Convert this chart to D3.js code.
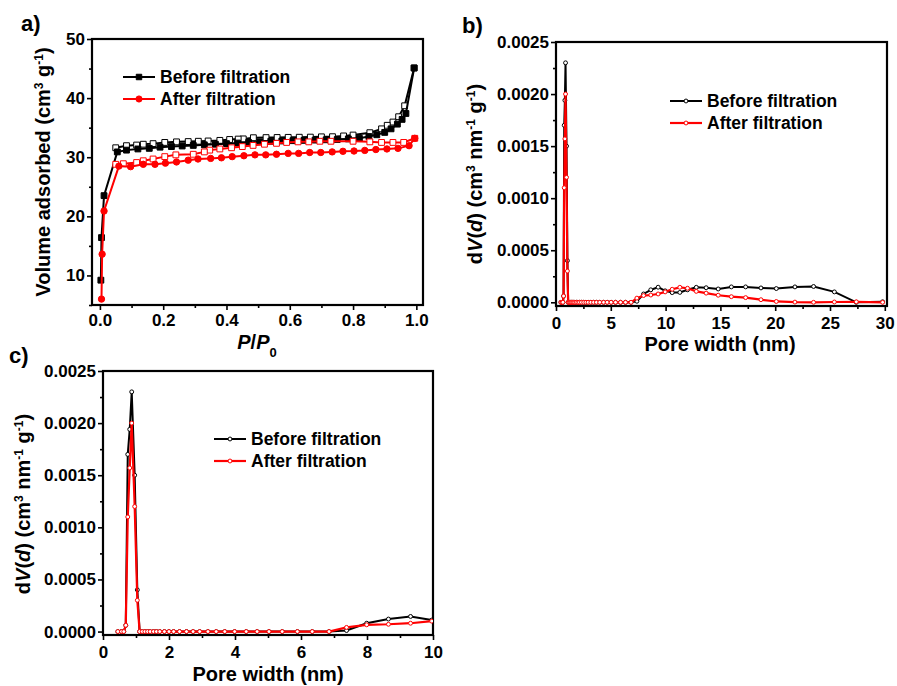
<!DOCTYPE html>
<html>
<head>
<meta charset="utf-8">
<script src="https://cdn.jsdelivr.net/npm/d3@7"></script>
<style>
  body { margin: 0; background: #fff; }
  svg text { font-family: "Liberation Sans", Arial, sans-serif; font-weight: bold; fill: #000; }
</style>
</head>
<body>
<svg id="chart" width="897" height="686"></svg>
<script>
// ---- isotherm data (P/P0, cm3/g) ----
const beforeAds = [[0.003,9.2],[0.005,16.4],[0.013,23.5],[0.055,30.9],[0.084,31.2],[0.12,31.4],[0.156,31.5],[0.19,31.7],[0.226,31.8],[0.26,31.9],[0.295,32.0],[0.33,32.1],[0.365,32.2],[0.40,32.3],[0.435,32.4],[0.47,32.5],[0.505,32.6],[0.54,32.7],[0.575,32.75],[0.61,32.8],[0.645,32.85],[0.68,32.9],[0.715,32.95],[0.75,33.0],[0.785,33.1],[0.82,33.2],[0.85,33.5],[0.875,33.8],[0.9,34.2],[0.92,34.8],[0.94,35.6],[0.955,36.4],[0.967,37.4],[0.993,45.1]];
const beforeDes = [[0.993,45.1],[0.963,38.7],[0.944,36.85],[0.926,35.95],[0.908,35.4],[0.89,34.8],[0.853,34.15],[0.8,33.75],[0.77,33.6],[0.735,33.47],[0.7,33.45],[0.665,33.4],[0.63,33.38],[0.595,33.36],[0.56,33.34],[0.525,33.32],[0.485,33.3],[0.453,33.1],[0.437,33.07],[0.41,33.0],[0.379,32.85],[0.342,32.75],[0.311,32.7],[0.279,32.65],[0.242,32.6],[0.205,32.5],[0.168,32.3],[0.137,32.2],[0.116,32.06],[0.084,31.95],[0.05,31.6]];
const afterAds = [[0.005,6.0],[0.007,13.6],[0.013,20.9],[0.06,28.5],[0.097,28.4],[0.137,28.8],[0.174,28.8],[0.207,29.0],[0.242,29.2],[0.279,29.5],[0.31,29.7],[0.35,29.8],[0.384,29.9],[0.418,30.1],[0.455,30.25],[0.49,30.4],[0.524,30.4],[0.558,30.5],[0.595,30.65],[0.628,30.65],[0.663,30.8],[0.698,30.8],[0.734,30.9],[0.768,31.0],[0.803,31.05],[0.837,31.15],[0.872,31.3],[0.907,31.4],[0.942,31.5],[0.977,31.95],[0.995,33.2]];
const afterDes = [[0.995,33.2],[0.96,32.5],[0.926,32.5],[0.89,32.5],[0.853,32.6],[0.8,32.7],[0.73,32.7],[0.695,32.7],[0.66,32.6],[0.626,32.6],[0.59,32.5],[0.558,32.35],[0.52,32.2],[0.484,32.0],[0.45,31.8],[0.416,31.6],[0.379,31.4],[0.347,31.2],[0.33,30.9],[0.295,30.5],[0.24,30.4],[0.205,30.1],[0.168,29.7],[0.137,29.4],[0.116,29.1],[0.074,28.9],[0.05,28.8]];

// ---- pore size distribution (nm, cm3 nm-1 g-1) ----
const poreWidth = [0.45,0.56,0.63,0.69,0.75,0.81,0.87,0.96,1.04,
  1.11,1.19,1.27,1.35,1.43,1.53,1.62,1.72,1.86,2.0,2.14,2.32,2.53,2.73,2.93,3.18,3.43,3.69,3.99,4.34,4.67,5.03,5.43,5.89,6.34,6.85,
  7.38,7.99,8.65,9.32,9.96,10.6,11.3,12.0,12.8,13.7,14.8,16.0,17.3,18.7,20.1,21.8,23.5,25.4,27.4,29.8];
const psdBefore = [0,0,0,0.00006,0.0017,0.00194,0.0023,0.0015,0.0004,
  0,0,0,0,0,0,0,0,0,0,0,0,0,0,0,0,0,0,0,0,0,0,0,0,0,0,
  0.00001,0.00008,0.00012,0.000145,0.00011,0.000093,0.000095,0.00012,0.000144,0.00014,0.000128,0.000148,0.000148,0.000138,0.000132,0.000148,0.000152,0.0001,0,0.000005];
const psdAfter = [0,0,0,0.00006,0.0011,0.00157,0.0020,0.0012,0.0003,
  0,0,0,0,0,0,0,0,0,0,0,0,0,0,0,0,0,0,0,0,0,0,0,0,0,0,
  0.00004,0.000065,0.00007,0.00008,0.0001,0.000125,0.000144,0.000135,0.000105,0.000088,0.000068,0.000054,0.000045,0.000025,0.000008,0.000002,0,0.000003,0.000005,0];

const seriesNames = ["Before filtration", "After filtration"];
const seriesColors = ["#000000", "#ff0000"];

const svg = d3.select("#chart");

function makePanel(cfg) {
  const g = svg.append("g");
  const x = d3.scaleLinear(cfg.xDomain, [cfg.left, cfg.right]);
  const y = d3.scaleLinear(cfg.yDomain, [cfg.bottom, cfg.top]);

  svg.append("clipPath").attr("id", "clip-" + cfg.id)
    .append("rect")
    .attr("x", cfg.left).attr("y", cfg.top - 2)
    .attr("width", cfg.right - cfg.left).attr("height", cfg.bottom - cfg.top + 2);

  // minor ticks
  g.append("g").attr("transform", `translate(0,${cfg.bottom})`)
    .call(d3.axisBottom(x).tickValues(cfg.xMinor).tickSize(3).tickFormat(""));
  g.append("g").attr("transform", `translate(${cfg.left},0)`)
    .call(d3.axisLeft(y).tickValues(cfg.yMinor).tickSize(3).tickFormat(""));
  // major ticks
  g.append("g").attr("transform", `translate(0,${cfg.bottom})`)
    .call(d3.axisBottom(x).tickValues(cfg.xTicks).tickFormat(cfg.xFmt).tickSize(5).tickPadding(cfg.xPad));
  g.append("g").attr("transform", `translate(${cfg.left},0)`)
    .call(d3.axisLeft(y).tickValues(cfg.yTicks).tickFormat(cfg.yFmt).tickSize(5).tickPadding(2));

  g.selectAll(".domain").remove();
  g.selectAll(".tick line").attr("stroke", "#000").attr("stroke-width", 1.6);
  g.selectAll(".tick text").attr("font-size", 17).attr("fill", "#000");

  // frame
  g.append("rect")
    .attr("x", cfg.left).attr("y", cfg.top)
    .attr("width", cfg.right - cfg.left).attr("height", cfg.bottom - cfg.top)
    .attr("fill", "none").attr("stroke", "#000").attr("stroke-width", 2.2);

  g.append("text").attr("x", cfg.labelX).attr("y", cfg.labelY)
    .attr("font-size", 22).text(cfg.label);

  const plot = svg.append("g").attr("clip-path", `url(#clip-${cfg.id})`);
  return { g, x, y, plot };
}

function drawSeries(p, pts, color, sym, filled, size, lw) {
  const line = d3.line().x(d => p.x(d[0])).y(d => p.y(d[1]));
  p.plot.append("path").datum(pts)
    .attr("d", line).attr("fill", "none")
    .attr("stroke", color).attr("stroke-width", lw);
  p.plot.selectAll(null).data(pts).join("path")
    .attr("transform", d => `translate(${p.x(d[0])},${p.y(d[1])})`)
    .attr("d", d3.symbol(sym, size))
    .attr("fill", filled ? color : "#fff")
    .attr("stroke", color).attr("stroke-width", 1);
}

function legendEntry(g, x0, y0, color, sym, filled, size, text, lw) {
  g.append("line").attr("x1", x0).attr("x2", x0 + 32).attr("y1", y0).attr("y2", y0)
    .attr("stroke", color).attr("stroke-width", lw);
  g.append("path").attr("transform", `translate(${x0 + 16},${y0})`)
    .attr("d", d3.symbol(sym, size))
    .attr("fill", filled ? color : "#fff").attr("stroke", color).attr("stroke-width", 1);
  g.append("text").attr("x", x0 + 37).attr("y", y0 + 6).attr("font-size", 17.5).text(text);
}

function psdYTitle(g, cx, cy) {
  const t = g.append("text").attr("transform", `translate(${cx},${cy}) rotate(-90)`)
    .attr("text-anchor", "middle").attr("font-size", 20);
  t.append("tspan").text("d");
  t.append("tspan").attr("font-style", "italic").text("V");
  t.append("tspan").text("(");
  t.append("tspan").attr("font-style", "italic").text("d");
  t.append("tspan").text(") (cm");
  t.append("tspan").attr("font-size", 12).attr("baseline-shift", "super").text("3");
  t.append("tspan").text(" nm");
  t.append("tspan").attr("font-size", 12).attr("baseline-shift", "super").text("-1");
  t.append("tspan").text(" g");
  t.append("tspan").attr("font-size", 12).attr("baseline-shift", "super").text("-1");
  t.append("tspan").text(")");
}

// ---------- panel a ----------
const pa = makePanel({
  id: "a", left: 92, right: 423, top: 39, bottom: 305,
  xDomain: [-0.025, 1.021], yDomain: [5, 50],
  xTicks: [0, 0.2, 0.4, 0.6, 0.8, 1.0], xMinor: [0.1, 0.3, 0.5, 0.7, 0.9],
  yTicks: [10, 20, 30, 40, 50], yMinor: [5, 15, 25, 35, 45],
  xFmt: d3.format(".1f"), yFmt: d3.format("d"), xPad: 4,
  label: "a)", labelX: 21, labelY: 31
});
drawSeries(pa, beforeDes, seriesColors[0], d3.symbolSquare, false, 34, 2);
drawSeries(pa, beforeAds, seriesColors[0], d3.symbolSquare, true, 34, 2);
drawSeries(pa, afterDes, seriesColors[1], d3.symbolSquare, false, 34, 2);
drawSeries(pa, afterAds, seriesColors[1], d3.symbolCircle, true, 32, 2);
legendEntry(pa.g, 123, 77, seriesColors[0], d3.symbolSquare, true, 30, seriesNames[0], 2);
legendEntry(pa.g, 123, 99, seriesColors[1], d3.symbolCircle, true, 30, seriesNames[1], 2);
{
  const t = pa.g.append("text").attr("transform", "translate(50,172) rotate(-90)")
    .attr("text-anchor", "middle").attr("font-size", 20);
  t.append("tspan").text("Volume adsorbed (cm");
  t.append("tspan").attr("font-size", 12).attr("baseline-shift", "super").text("3");
  t.append("tspan").text(" g");
  t.append("tspan").attr("font-size", 12).attr("baseline-shift", "super").text("-1");
  t.append("tspan").text(")");
  const xt = pa.g.append("text").attr("x", 257).attr("y", 349)
    .attr("text-anchor", "middle").attr("font-size", 20);
  xt.append("tspan").attr("font-style", "italic").text("P");
  xt.append("tspan").text("/");
  xt.append("tspan").attr("font-style", "italic").text("P");
  xt.append("tspan").attr("font-size", 13).attr("baseline-shift", "sub").text("0");
}

// ---------- panel b ----------
const psdYTicks = [0, 0.0005, 0.001, 0.0015, 0.002, 0.0025];
const psdYMinor = [0.00025, 0.00075, 0.00125, 0.00175, 0.00225];
const psdBeforePts = poreWidth.map((w, i) => [w, psdBefore[i]]);
const psdAfterPts = poreWidth.map((w, i) => [w, psdAfter[i]]);

const pb = makePanel({
  id: "b", left: 556, right: 887, top: 42, bottom: 306,
  xDomain: [0, 30.2], yDomain: [-0.0000355, 0.0025],
  xTicks: [0, 5, 10, 15, 20, 25, 30], xMinor: [2.5, 7.5, 12.5, 17.5, 22.5, 27.5],
  yTicks: psdYTicks, yMinor: psdYMinor,
  xFmt: d3.format("d"), yFmt: d3.format(".4f"), xPad: 6,
  label: "b)", labelX: 462, labelY: 33
});
drawSeries(pb, psdBeforePts, seriesColors[0], d3.symbolCircle, false, 12, 2);
drawSeries(pb, psdAfterPts, seriesColors[1], d3.symbolCircle, false, 12, 2.2);
legendEntry(pb.g, 670, 101, seriesColors[0], d3.symbolCircle, false, 12, seriesNames[0], 2);
legendEntry(pb.g, 670, 123, seriesColors[1], d3.symbolCircle, false, 12, seriesNames[1], 2.2);
psdYTitle(pb.g, 482, 174);
pb.g.append("text").attr("x", 720).attr("y", 351).attr("text-anchor", "middle")
  .attr("font-size", 20).text("Pore width (nm)");

// ---------- panel c ----------
const pc = makePanel({
  id: "c", left: 103, right: 433, top: 371, bottom: 635,
  xDomain: [0, 10], yDomain: [-0.000033, 0.0025],
  xTicks: [0, 2, 4, 6, 8, 10], xMinor: [1, 3, 5, 7, 9],
  yTicks: psdYTicks, yMinor: psdYMinor,
  xFmt: d3.format("d"), yFmt: d3.format(".4f"), xPad: 6,
  label: "c)", labelX: 9, labelY: 363
});
drawSeries(pc, psdBeforePts, seriesColors[0], d3.symbolCircle, false, 12, 2);
drawSeries(pc, psdAfterPts, seriesColors[1], d3.symbolCircle, false, 12, 2.2);
legendEntry(pc.g, 214, 439, seriesColors[0], d3.symbolCircle, false, 12, seriesNames[0], 2);
legendEntry(pc.g, 214, 461, seriesColors[1], d3.symbolCircle, false, 12, seriesNames[1], 2.2);
psdYTitle(pc.g, 30, 504);
pc.g.append("text").attr("x", 268).attr("y", 681).attr("text-anchor", "middle")
  .attr("font-size", 20).text("Pore width (nm)");
</script>
</body>
</html>
